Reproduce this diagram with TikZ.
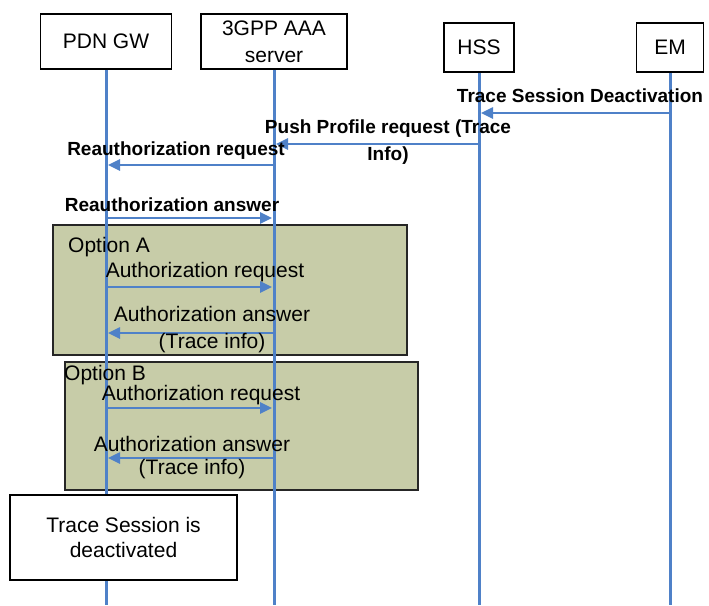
\documentclass[tikz,border=0pt]{standalone}
\usepackage{fontspec}
\setmainfont{Liberation Sans}
\usetikzlibrary{arrows.meta}
\definecolor{lifeblue}{RGB}{79,129,200}
\definecolor{optfill}{RGB}{199,204,168}
\begin{document}
\begin{tikzpicture}[x=1pt,y=-1pt,
  head/.style={draw=black,line width=1.8pt,fill=white,inner sep=0pt,
    font=\fontsize{21}{27}\selectfont,align=center},
  life/.style={draw=lifeblue,line width=3pt},
  msg/.style={draw=lifeblue,line width=2.5pt,-{Triangle[length=12pt,width=11pt]}},
  boldlbl/.style={font=\bfseries\fontsize{19}{27}\selectfont,inner sep=0pt,anchor=base},
  lbl/.style={font=\fontsize{21}{27}\selectfont,inner sep=0pt,anchor=base},
  optbox/.style={draw=black!85,line width=2.5pt,fill=optfill}]
\useasboundingbox (0,0) rectangle (709,605);
% option frames
\draw[optbox] (53,225) rectangle (407,355);
\draw[optbox] (65,362) rectangle (418,490);
% header boxes
\node[head,minimum width=131pt,minimum height=55pt] (pdn) at (106,41.5) {PDN GW};
\node[head,minimum width=146pt,minimum height=55pt] (aaa) at (274,41.5) {3GPP AAA\\server};
\node[head,minimum width=70pt,minimum height=49pt] (hss) at (479,47.5) {HSS};
\node[head,minimum width=67pt,minimum height=49pt] (em) at (670,47.5) {EM};
% lifeline ends
\coordinate (pdnE) at (106,605);
\coordinate (aaaE) at (274,605);
\coordinate (hssE) at (479,605);
\coordinate (emE) at (670,605);
\draw[life] (pdn.south) -- (pdnE);
\draw[life] (aaa.south) -- (aaaE);
\draw[life] (hss.south) -- (hssE);
\draw[life] (em.south) -- (emE);
% final state box
\node[head,minimum width=227pt,minimum height=85pt,font=\fontsize{21}{25}\selectfont] (done) at (123.5,537.5) {Trace Session is\\deactivated};
% message points
\coordinate (em1) at (670,113);  \coordinate (hss1) at (481,113);
\coordinate (hss2) at (479,144); \coordinate (aaa2) at (276,144);
\coordinate (aaa3) at (274,165); \coordinate (pdn3) at (108,165);
\coordinate (pdn4) at (106,218); \coordinate (aaa4) at (272,218);
\coordinate (pdn5) at (106,287); \coordinate (aaa5) at (272,287);
\coordinate (aaa6) at (274,333); \coordinate (pdn6) at (108,333);
\coordinate (pdn7) at (106,408); \coordinate (aaa7) at (272,408);
\coordinate (aaa8) at (274,458); \coordinate (pdn8) at (108,458);
\draw[msg] (em1) -- (hss1);
\draw[msg] (hss2) -- (aaa2);
\draw[msg] (aaa3) -- (pdn3);
\draw[msg] (pdn4) -- (aaa4);
\draw[msg] (pdn5) -- (aaa5);
\draw[msg] (aaa6) -- (pdn6);
\draw[msg] (pdn7) -- (aaa7);
\draw[msg] (aaa8) -- (pdn8);
% labels
\node[boldlbl] (l1) at (580,102) {Trace Session Deactivation};
\node[boldlbl,anchor=center,align=center] (l2) at (388,141.7) {Push Profile request (Trace\\Info)};
\node[boldlbl] (l3) at (176,155) {Reauthorization request};
\node[boldlbl] (l4) at (172,211) {Reauthorization answer};
\node[lbl,anchor=base west] (oa) at (68,252) {Option A};
\node[lbl] (l5) at (205,277) {Authorization request};
\node[lbl,anchor=center,align=center] (l6) at (212,330) {Authorization answer\\(Trace info)};
\node[lbl,anchor=base west] (ob) at (64,380) {Option B};
\node[lbl] (l7) at (201,400) {Authorization request};
\node[lbl,anchor=center,align=center,font=\fontsize{21}{23}\selectfont] (l8) at (192,458) {Authorization answer\\(Trace info)};
\end{tikzpicture}
\end{document}
